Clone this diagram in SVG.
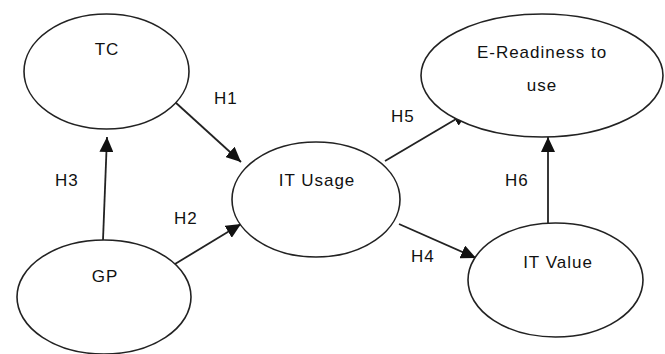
<svg xmlns="http://www.w3.org/2000/svg" width="665" height="354" viewBox="0 0 665 354">
<style>
.node ellipse{fill:#fff;stroke:#222;stroke-width:1.6}
text{font-family:"Liberation Sans",Arial,sans-serif;font-size:17px;fill:#111;letter-spacing:1px}
.c{text-anchor:middle}
.edge{stroke:#222;stroke-width:1.8;fill:none}
</style>
<defs>
<marker id="ah" markerUnits="userSpaceOnUse" markerWidth="16" markerHeight="14" refX="15" refY="7" orient="auto">
<path d="M0,0 L15,7 L0,14 Z" fill="#111"/>
</marker>
</defs>
<rect width="665" height="354" fill="#fff"/>
<g id="connectors">
<line class="edge" x1="103" y1="240" x2="107" y2="137" marker-end="url(#ah)"/>
<line class="edge" x1="175" y1="102" x2="241" y2="162" marker-end="url(#ah)"/>
<line class="edge" x1="175" y1="264" x2="241" y2="224" marker-end="url(#ah)"/>
<line class="edge" x1="385" y1="161" x2="468" y2="112" marker-end="url(#ah)"/>
<line class="edge" x1="399" y1="224" x2="476" y2="258" marker-end="url(#ah)"/>
<line class="edge" x1="548" y1="223" x2="548" y2="137" marker-end="url(#ah)"/>
<text x="214" y="104">H1</text>
<text x="174" y="224">H2</text>
<text x="55" y="186">H3</text>
<text x="411" y="262">H4</text>
<text x="391" y="122">H5</text>
<text x="505" y="186">H6</text>
</g>
<g id="TC" class="node"><ellipse cx="106.5" cy="71.5" rx="82.5" ry="57.5"/><text class="c" x="107" y="55">TC</text></g>
<g id="GP" class="node"><ellipse cx="104" cy="297" rx="87" ry="57"/><text class="c" x="105" y="282">GP</text></g>
<g id="ITUsage" class="node"><ellipse cx="316" cy="199.5" rx="84" ry="57.5"/><text class="c" x="317" y="186">IT Usage</text></g>
<g id="EReadiness" class="node"><ellipse cx="542" cy="75.5" rx="121" ry="61.5"/><text class="c" x="542" y="58">E-Readiness to</text><text class="c" x="542" y="91">use</text></g>
<g id="ITValue" class="node"><ellipse cx="555.5" cy="280" rx="87.5" ry="57"/><text class="c" x="558" y="268">IT Value</text></g>
</svg>
